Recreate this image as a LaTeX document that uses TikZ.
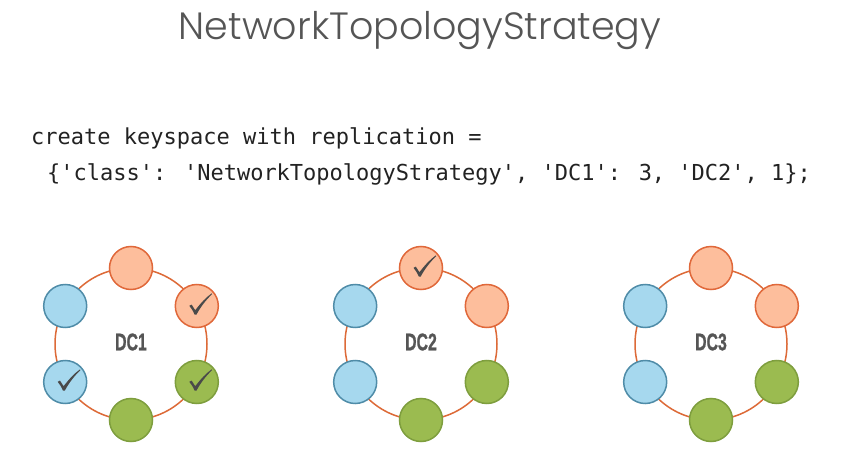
\documentclass[tikz,border=0pt]{standalone}
\usepackage{fontspec}
\usetikzlibrary{calc}
\newfontfamily\titlefont{Poppins}[UprightFont=* Light]
\newfontfamily\codefont{DejaVu Sans Mono}
\newfontfamily\dcfont[FakeBold=1.2]{Liberation Sans}

\definecolor{titlegray}{HTML}{555555}
\definecolor{codeink}{HTML}{222222}
\definecolor{labelgray}{HTML}{555555}
\definecolor{ringc}{HTML}{DD6A38}
\definecolor{ofill}{HTML}{FDBE9C}
\definecolor{ostroke}{HTML}{E0683A}
\definecolor{bfill}{HTML}{A6D8EE}
\definecolor{bstroke}{HTML}{4F8CA8}
\definecolor{gfill}{HTML}{9BBB50}
\definecolor{gstroke}{HTML}{7E9E3E}
\definecolor{tick}{HTML}{4A4A4A}

\tikzset{
  ring/.style={draw=ringc, line width=1.5pt},
  replica/.style={circle, minimum size=43pt, inner sep=0pt, line width=1.5pt},
  orangenode/.style={replica, fill=ofill, draw=ostroke},
  bluenode/.style={replica, fill=bfill, draw=bstroke},
  greennode/.style={replica, fill=gfill, draw=gstroke},
  dclabel/.style={font=\dcfont\bfseries\fontsize{24}{24}\selectfont, text=labelgray},
  codeline/.style={anchor=base west, inner sep=0pt, font=\codefont\fontsize{22}{22}\selectfont, text=codeink},
  % tapered check mark drawn around the centre of a replica
  tickmark/.pic={
    \fill[tick] (-7.5,0.2) .. controls (-6.5,1.2) .. (-5.2,1.4)
      -- (-1.6,-4.2) .. controls (4,3) and (9,8.5) .. (14.8,12.6)
      -- (15.3,11.9) .. controls (9,6) and (3,-2) .. (-0.3,-8.6)
      -- (-2.2,-8.6) .. controls (-3.8,-5) and (-5.5,-2) .. cycle;
  }
}

\begin{document}
\begin{tikzpicture}[x=1pt,y=1pt]
  \fill[white] (0,0) rectangle (844,451);
  \useasboundingbox (0,0) rectangle (844,451);

  % heading
  \node[anchor=base, inner sep=0pt, font=\titlefont\fontsize{38}{38}\selectfont, text=titlegray]
    (title) at (420,411) {NetworkTopologyStrategy};

  % CQL statement
  \node[codeline] (code1) at (31,307) {create keyspace with replication =};
  \node[codeline] (code2) at (47,271) {\{'class': 'NetworkTopologyStrategy', 'DC1': 3, 'DC2', 1\};};

  % three data centre rings
  \foreach \cx/\nm/\lbl in {131/dc1/DC1, 421/dc2/DC2, 711/dc3/DC3} {
    \coordinate (\nm) at (\cx,107);
    \draw[ring] (\nm) circle (76);
    \node[dclabel] (\nm-label) at ($(\nm)+(0,2)$) {\scalebox{0.66}[1]{\lbl}};
  }

  % DC1: three replicas
  \node[orangenode] (dc1-n1) at ($(dc1)+(90:76)$) {};
  \node[orangenode] (dc1-n2) at ($(dc1)+(30:76)$) {};
  \node[greennode]  (dc1-n3) at ($(dc1)+(-30:76)$) {};
  \node[greennode]  (dc1-n4) at ($(dc1)+(-90:76)$) {};
  \node[bluenode]   (dc1-n5) at ($(dc1)+(-150:76)$) {};
  \node[bluenode]   (dc1-n6) at ($(dc1)+(150:76)$) {};
  \pic at (dc1-n2.center) {tickmark};
  \pic at (dc1-n3.center) {tickmark};
  \pic at (dc1-n5.center) {tickmark};

  % DC2: one replica
  \node[orangenode] (dc2-n1) at ($(dc2)+(90:76)$) {};
  \node[orangenode] (dc2-n2) at ($(dc2)+(30:76)$) {};
  \node[greennode]  (dc2-n3) at ($(dc2)+(-30:76)$) {};
  \node[greennode]  (dc2-n4) at ($(dc2)+(-90:76)$) {};
  \node[bluenode]   (dc2-n5) at ($(dc2)+(-150:76)$) {};
  \node[bluenode]   (dc2-n6) at ($(dc2)+(150:76)$) {};
  \pic at (dc2-n1.center) {tickmark};

  % DC3: no replicas
  \node[orangenode] (dc3-n1) at ($(dc3)+(90:76)$) {};
  \node[orangenode] (dc3-n2) at ($(dc3)+(30:76)$) {};
  \node[greennode]  (dc3-n3) at ($(dc3)+(-30:76)$) {};
  \node[greennode]  (dc3-n4) at ($(dc3)+(-90:76)$) {};
  \node[bluenode]   (dc3-n5) at ($(dc3)+(-150:76)$) {};
  \node[bluenode]   (dc3-n6) at ($(dc3)+(150:76)$) {};
\end{tikzpicture}
\end{document}
